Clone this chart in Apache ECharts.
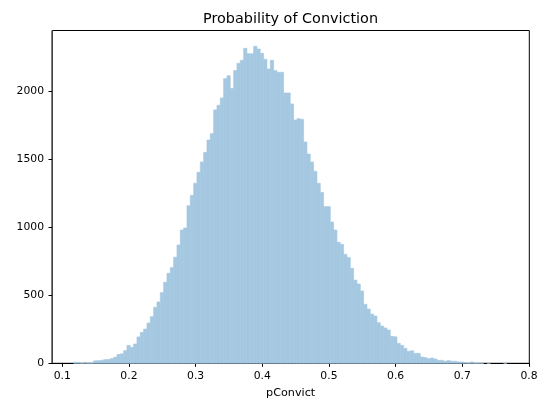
<!DOCTYPE html>
<html>

<head>
  <meta charset="utf-8" />
  <title>Probability of Conviction</title>
  <script src="https://cdn.jsdelivr.net/npm/echarts@6/dist/echarts.min.js"></script>
</head>

<body style="margin:0;">
  <div id="hist" style="width:550px;height:413px;"></div>
  <script type="text/javascript">

    // Histogram bins: first left edge and bin width
    let binStart = 0.117;
    let binWidth = 0.005;
    // Counts per bin
    let counts = [7, 7, 2, 7, 2, 3, 18, 19, 22, 27,
      28, 35, 45, 65, 70, 93, 132, 118, 142, 194,
      228, 252, 296, 343, 412, 451, 520, 596, 662, 704,
      780, 870, 980, 995, 1159, 1235, 1324, 1404, 1480, 1551,
      1642, 1689, 1863, 1897, 1951, 2093, 2115, 2020, 2152, 2206,
      2228, 2316, 2276, 2276, 2331, 2311, 2279, 2235, 2164, 2228,
      2152, 2140, 2140, 1988, 1988, 1907, 1789, 1799, 1794, 1627,
      1539, 1480, 1412, 1324, 1257, 1152, 1152, 1039, 980, 890,
      875, 801, 779, 698, 612, 583, 532, 434, 399, 362,
      348, 299, 274, 260, 245, 198, 195, 147, 132, 110,
      88, 92, 73, 73, 46, 42, 34, 39, 32, 22,
      22, 15, 20, 15, 15, 10, 10, 5, 3, 10,
      2, 1, 1, 0, 1, 0, 0, 0, 0, 1];
    let xTicks = [0.1, 0.2, 0.3, 0.4, 0.5, 0.6, 0.7, 0.8];
    let yTicks = [0, 500, 1000, 1500, 2000];

    // [left edge, right edge, count]
    let bars = counts.map(function (c, i) {
      return [binStart + i * binWidth, binStart + (i + 1) * binWidth, c];
    });

    var chart = echarts.init(document.getElementById('hist'));

    var font = 'DejaVu Sans';
    var barColor = '#a5c8e1';

    var option = {
      animation: false,
      textStyle: { fontFamily: font },
      title: {
        text: 'Probability of Conviction',
        left: 290.5,
        textAlign: 'center',
        top: 12,
        padding: 0,
        textStyle: { fontFamily: font, fontSize: 14.4, fontWeight: 'normal', color: '#000' }
      },
      grid: {
        left: 52,
        right: 20.7,
        top: 30.5,
        bottom: 49.7,
        show: true,
        borderColor: '#000',
        borderWidth: 1
      },
      xAxis: {
        type: 'value',
        min: 0.0846,
        max: 0.8005,
        name: 'pConvict',
        nameLocation: 'middle',
        nameGap: 24,
        nameTextStyle: { fontFamily: font, fontSize: 11.2, color: '#000' },
        axisLine: { show: true, lineStyle: { color: '#000', width: 1 } },
        axisTick: { show: true, length: 3.5, customValues: xTicks, lineStyle: { color: '#000' } },
        axisLabel: {
          customValues: xTicks,
          margin: 7.5,
          fontFamily: font,
          fontSize: 10.8,
          color: '#000',
          formatter: function (v) { return v.toFixed(1); }
        },
        splitLine: { show: false }
      },
      yAxis: {
        type: 'value',
        min: 0,
        max: 2447,
        axisLine: { show: true, lineStyle: { color: '#444', width: 1 } },
        axisTick: { show: true, length: 3.5, customValues: yTicks, lineStyle: { color: '#000' } },
        axisLabel: {
          customValues: yTicks,
          margin: 8,
          fontFamily: font,
          fontSize: 10.8,
          color: '#000',
          formatter: function (v) { return String(Math.round(v)); }
        },
        splitLine: { show: false }
      },
      series: [
        {
          type: 'custom',
          data: bars,
          encode: { x: [0, 1], y: 2 },
          renderItem: function (params, api) {
            if (api.value(2) <= 0) {
              return null;
            }
            var p0 = api.coord([api.value(0), 0]);
            var p1 = api.coord([api.value(1), api.value(2)]);
            return {
              type: 'rect',
              shape: { x: p0[0], y: p1[1], width: p1[0] - p0[0], height: p0[1] - p1[1] },
              style: { fill: barColor, stroke: barColor, lineWidth: 0.6 }
            };
          }
        }
      ]
    };

    chart.setOption(option);
  </script>
</body>

</html>
